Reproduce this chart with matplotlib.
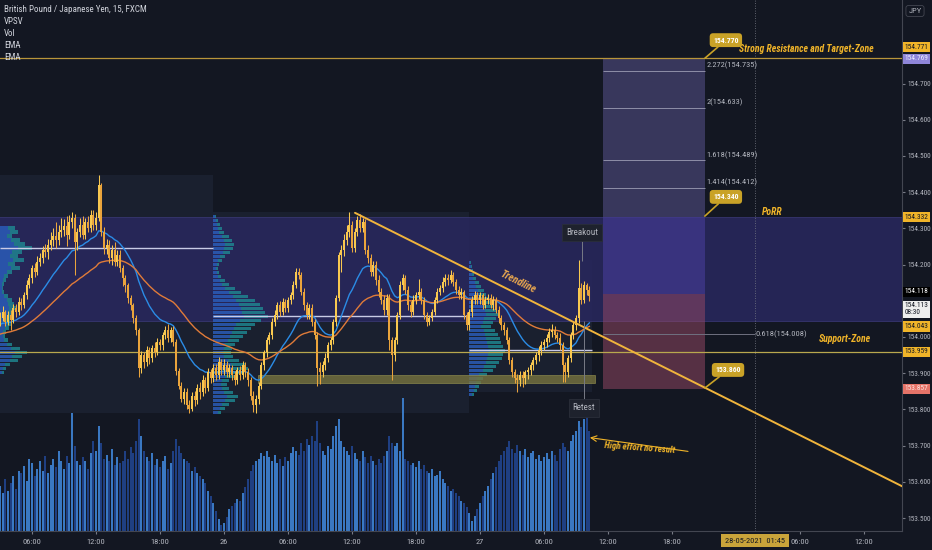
import os
import matplotlib
matplotlib.use('Agg')
import matplotlib.pyplot as plt
import numpy as np
from matplotlib import font_manager as fm
from matplotlib.patches import Rectangle
from matplotlib.transforms import blended_transform_factory

# GBPJPY 15m, x axis = hours since 26 May 00:00
first_bar = -21.0
bar_len = 0.25
first_open = 154.045

closes = [
    154.052, 154.068, 154.041, 154.060,
    154.046, 154.079, 154.068, 154.096,
    154.088, 154.115, 154.143, 154.162,
    154.190, 154.179, 154.207, 154.218,
    154.240, 154.235, 154.254, 154.268,
    154.279, 154.268, 154.290, 154.296,
    154.307, 154.282, 154.318, 154.329,
    154.262, 154.290, 154.309, 154.282,
    154.318, 154.301, 154.337, 154.309,
    154.330, 154.420, 154.290, 154.246,
    154.254, 154.218, 154.240, 154.207,
    154.226, 154.190, 154.162, 154.143,
    154.107, 154.088, 154.052, 154.019,
    153.913, 153.949, 153.930, 153.963,
    153.941, 153.969, 153.958, 153.985,
    153.977, 154.005, 154.018, 153.996,
    154.018, 153.985, 153.907, 153.866,
    153.830, 153.847, 153.811, 153.802,
    153.838, 153.825, 153.858, 153.847,
    153.880, 153.858, 153.902, 153.886,
    153.913, 153.894, 153.930, 153.908,
    153.922, 153.902, 153.913, 153.894,
    153.880, 153.908, 153.894, 153.922,
    153.902, 153.880, 153.838, 153.811,
    153.830, 153.866, 153.922, 153.958,
    153.991, 154.005, 154.041, 154.060,
    154.088, 154.068, 154.096, 154.079,
    154.102, 154.115, 154.143, 154.179,
    154.171, 154.124, 154.088, 154.060,
    154.079, 154.041, 154.005, 153.913,
    153.902, 153.922, 153.941, 153.977,
    153.991, 154.041, 154.107, 154.226,
    154.240, 154.268, 154.290, 154.309,
    154.246, 154.290, 154.323, 154.301,
    154.318, 154.240, 154.218, 154.179,
    154.199, 154.157, 154.124, 154.102,
    154.074, 154.107, 153.991, 153.949,
    153.991, 154.060, 154.143, 154.162,
    154.129, 154.088, 154.068, 154.102,
    154.115, 154.124, 154.102, 154.060,
    154.041, 154.052, 154.068, 154.102,
    154.124, 154.135, 154.151, 154.162,
    154.157, 154.171, 154.151, 154.129,
    154.115, 154.124, 154.060, 154.032,
    154.068, 154.102, 154.115, 154.102,
    154.115, 154.088, 154.102, 154.107,
    154.088, 154.102, 154.074, 154.052,
    154.032, 154.018, 153.991, 153.936,
    153.902, 153.886, 153.880, 153.894,
    153.886, 153.902, 153.908, 153.922,
    153.936, 153.949, 153.963, 153.977,
    153.985, 153.996, 154.013, 154.018,
    154.005, 153.996, 153.977, 153.922,
    153.902, 153.941, 154.005, 154.032,
    154.052, 154.135, 154.102, 154.143,
    154.129, 154.113,
]

highs = [
    154.070, 154.085, 154.075, 154.072,
    154.075, 154.092, 154.090, 154.110,
    154.108, 154.125, 154.158, 154.175,
    154.200, 154.205, 154.225, 154.232,
    154.252, 154.258, 154.270, 154.290,
    154.300, 154.318, 154.310, 154.330,
    154.325, 154.335, 154.338, 154.345,
    154.340, 154.300, 154.330, 154.335,
    154.330, 154.335, 154.350, 154.352,
    154.345, 154.448, 154.425, 154.305,
    154.270, 154.268, 154.255, 154.262,
    154.240, 154.240, 154.200, 154.170,
    154.150, 154.115, 154.095, 154.060,
    154.025, 153.960, 153.958, 153.975,
    153.972, 153.978, 153.985, 153.998,
    153.995, 154.015, 154.030, 154.035,
    154.028, 154.030, 153.995, 153.915,
    153.875, 153.858, 153.860, 153.825,
    153.848, 153.850, 153.870, 153.875,
    153.895, 153.890, 153.915, 153.912,
    153.925, 153.925, 153.945, 153.940,
    153.938, 153.935, 153.925, 153.922,
    153.905, 153.918, 153.920, 153.935,
    153.930, 153.915, 153.890, 153.850,
    153.840, 153.875, 153.930, 153.965,
    154.000, 154.015, 154.052, 154.075,
    154.098, 154.100, 154.108, 154.105,
    154.110, 154.125, 154.155, 154.190,
    154.190, 154.180, 154.135, 154.098,
    154.090, 154.090, 154.050, 154.015,
    153.930, 153.935, 153.955, 153.985,
    154.000, 154.050, 154.115, 154.235,
    154.255, 154.285, 154.310, 154.345,
    154.320, 154.300, 154.335, 154.340,
    154.330, 154.325, 154.255, 154.230,
    154.210, 154.210, 154.170, 154.135,
    154.115, 154.118, 154.120, 154.000,
    154.000, 154.070, 154.155, 154.175,
    154.172, 154.140, 154.100, 154.115,
    154.125, 154.160, 154.135, 154.110,
    154.070, 154.062, 154.078, 154.110,
    154.135, 154.145, 154.165, 154.175,
    154.175, 154.185, 154.180, 154.160,
    154.140, 154.135, 154.130, 154.070,
    154.078, 154.112, 154.128, 154.125,
    154.125, 154.122, 154.112, 154.120,
    154.118, 154.112, 154.110, 154.085,
    154.060, 154.042, 154.028, 154.000,
    153.945, 153.912, 153.898, 153.905,
    153.905, 153.910, 153.918, 153.930,
    153.945, 153.958, 153.975, 153.988,
    153.995, 154.008, 154.025, 154.035,
    154.030, 154.015, 154.010, 153.985,
    153.930, 153.950, 154.015, 154.045,
    154.062, 154.212, 154.150, 154.155,
    154.150, 154.140,
]

lows = [
    154.030, 154.045, 154.030, 154.032,
    154.020, 154.040, 154.055, 154.060,
    154.075, 154.080, 154.105, 154.135,
    154.150, 154.165, 154.170, 154.195,
    154.205, 154.220, 154.215, 154.240,
    154.250, 154.245, 154.255, 154.275,
    154.280, 154.250, 154.270, 154.300,
    154.170, 154.240, 154.275, 154.270,
    154.270, 154.290, 154.290, 154.295,
    154.295, 154.320, 154.280, 154.230,
    154.230, 154.205, 154.200, 154.195,
    154.195, 154.180, 154.140, 154.125,
    154.095, 154.075, 154.040, 154.005,
    153.890, 153.900, 153.915, 153.920,
    153.925, 153.930, 153.945, 153.950,
    153.965, 153.965, 153.995, 153.985,
    153.985, 153.975, 153.895, 153.855,
    153.820, 153.815, 153.800, 153.790,
    153.795, 153.810, 153.815, 153.830,
    153.838, 153.845, 153.850, 153.872,
    153.875, 153.880, 153.885, 153.895,
    153.895, 153.890, 153.890, 153.880,
    153.868, 153.870, 153.880, 153.885,
    153.890, 153.865, 153.825, 153.792,
    153.790, 153.815, 153.855, 153.910,
    153.945, 153.980, 153.995, 154.030,
    154.050, 154.058, 154.060, 154.070,
    154.070, 154.090, 154.105, 154.135,
    154.160, 154.115, 154.075, 154.050,
    154.050, 154.030, 153.995, 153.866,
    153.870, 153.890, 153.910, 153.930,
    153.965, 153.980, 154.030, 154.100,
    154.180, 154.225, 154.255, 154.275,
    154.235, 154.235, 154.280, 154.290,
    154.290, 154.230, 154.205, 154.168,
    154.168, 154.145, 154.110, 154.090,
    154.060, 154.062, 153.965, 153.880,
    153.935, 153.980, 154.050, 154.130,
    154.120, 154.075, 154.055, 154.060,
    154.090, 154.105, 154.090, 154.050,
    154.030, 154.032, 154.045, 154.060,
    154.095, 154.115, 154.125, 154.140,
    154.145, 154.148, 154.140, 154.118,
    154.105, 154.105, 154.050, 154.020,
    154.020, 154.055, 154.090, 154.090,
    154.090, 154.078, 154.080, 154.092,
    154.080, 154.075, 154.065, 154.040,
    154.020, 154.005, 153.980, 153.925,
    153.890, 153.872, 153.848, 153.865,
    153.862, 153.870, 153.885, 153.895,
    153.910, 153.925, 153.935, 153.950,
    153.965, 153.972, 153.985, 154.000,
    153.995, 153.985, 153.965, 153.875,
    153.875, 153.890, 153.930, 153.995,
    154.020, 154.040, 154.090, 154.095,
    154.115, 154.100,
]

volumes = [
    45, 38, 52, 40, 48, 55, 42, 60, 58, 65, 50, 72, 68, 55, 62, 70,
    60, 75, 58, 66, 72, 64, 80, 70, 62, 75, 68, 118, 85, 70, 66, 74,
    70, 62, 78, 90, 80, 105, 88, 72, 76, 70, 82, 66, 74, 68, 70, 80,
    72, 84, 78, 90, 112, 95, 80, 74, 70, 78, 66, 72, 64, 70, 75, 62,
    68, 80, 92, 85, 78, 72, 70, 68, 60, 64, 58, 55, 52, 48, 40, 35,
    28, 20, 12, 6, 8, 14, 22, 25, 28, 32, 30, 38, 44, 52, 60, 66,
    70, 72, 78, 75, 80, 74, 70, 76, 68, 72, 65, 74, 70, 78, 84, 80,
    76, 88, 80, 92, 86, 95, 90, 110, 88, 80, 76, 85, 82, 95, 105, 112,
    90, 84, 80, 76, 85, 78, 72, 70, 80, 74, 68, 75, 70, 66, 72, 68,
    75, 80, 95, 88, 85, 88, 80, 133, 72, 70, 66, 68, 64, 70, 62, 66,
    60, 58, 62, 55, 56, 60, 52, 48, 45, 40, 42, 38, 35, 30, 28, 24,
    18, 10, 15, 22, 28, 35, 40, 45, 52, 58, 64, 70, 76, 80, 84, 90,
    82, 78, 86, 80, 76, 82, 74, 78, 80, 72, 76, 70, 74, 78, 72, 80,
    76, 70, 82, 88, 84, 80, 90, 96, 100, 110, 104, 112, 128, 100,
]

# session volume profiles: (start hour, top row price, row widths)
row_step = 0.01105
sessions = [
    (-21.0, 154.301, [15, 18, 12, 20, 25, 32, 22, 18, 24, 15, 20, 12, 8, 6, 4, 3, 4, 8, 12, 14,
                      16, 14, 12, 10, 12, 9, 6, 5, 8, 12, 20, 27, 22, 18, 10, 6, 4]),
    (-1.0, 154.334, [3, 5, 7, 9, 11, 16, 19, 21, 20, 17, 12, 9, 6, 5, 6, 8, 12, 16, 22, 28,
                     35, 42, 47, 50, 52, 55, 48, 42, 38, 34, 30, 26, 22, 19, 18, 20, 26, 32, 35, 30,
                     22, 16, 14, 16, 20, 25, 22, 16, 12, 8]),
    (23.0, 154.207, [2, 3, 4, 5, 7, 10, 12, 15, 17, 20, 23, 25, 28, 30, 27, 24, 22, 26, 29, 31,
                     32, 34, 36, 34, 33, 30, 27, 24, 18, 14, 12, 10, 8, 5]),
]
session_ends = [-1.0, 23.0, 34.5]

ema_fast_start = 154.033
ema_slow_start = 154.006

resistance = 154.770
support = 153.959
porr_top, porr_bottom = 154.332, 154.043
zone_top, zone_bottom = 153.894, 153.872
trend_start = (12.28, 154.343)
trend_end = (70.0, 153.493)
entry, stop, target = 154.118, 153.857, 154.332
pos_left, pos_right = 35.5, 45.1
fib_levels = [(2.272, 154.735), (2.0, 154.633), (1.618, 154.489), (1.414, 154.412)]
fib_618 = 154.008
marker_time = 49.77

bg = '#131722'
gold = '#f0b429'
grey_txt = '#b2b5be'


# TradingView text is narrow: look for a condensed sans face, else Liberation Sans
def pick_font(bold=False, italic=False):
    families = ['Liberation Sans Narrow', 'Roboto Condensed', 'Noto Sans', 'Noto Sans Condensed',
                'Open Sans', 'Open Sans Condensed', 'DejaVu Sans', 'Roboto']
    found = {}
    for f in fm.fontManager.ttflist:
        base = os.path.basename(f.fname).lower()
        if f.name not in families or f.stretch != 'condensed':
            continue
        if any(k in base for k in ('extra', 'semi', 'ultra')):
            continue
        w = f.weight if isinstance(f.weight, int) else (700 if 'bold' in str(f.weight) else 400)
        if (w >= 600) != bold or (f.style != 'normal') != italic:
            continue
        if bold and w > 750:
            continue
        if not bold and w < 350:
            continue
        found.setdefault(f.name, f.fname)
    for fam in families:
        if fam in found:
            return dict(fname=found[fam])
    return dict(family='Liberation Sans', weight='bold' if bold else 'normal',
                style='italic' if italic else 'normal')


reg_font = pick_font()
bi_font = pick_font(bold=True, italic=True)
b_font = pick_font(bold=True)


def fp(size, spec=None):
    return fm.FontProperties(size=size, **(spec or reg_font))


def ema(values, span, start):
    k = 2.0 / (span + 1)
    level = start
    out = []
    for v in values:
        level = level + k * (v - level)
        out.append(level)
    return np.array(out)


fig = plt.figure(figsize=(9.32, 5.5), dpi=100)
fig.patch.set_facecolor(bg)
ax = fig.add_axes([0, 19 / 550, 902 / 932, 531 / 550])
ax.set_facecolor(bg)

t = first_bar + bar_len * np.arange(len(closes))
c = np.array(closes)
o = np.concatenate([[first_open], c[:-1]])
h = np.array(highs)
l = np.array(lows)

# session range boxes + profiles + POC lines
for (start, top, widths), end in zip(sessions, session_ends):
    m = (t >= start) & (t < end)
    ax.add_patch(Rectangle((start, l[m].min()), end - start, h[m].max() - l[m].min(),
                           fc='#1a202f', ec='none', zorder=0.5))
for (start, top, widths), end in zip(sessions, session_ends):
    w = np.array(widths) / 10.67
    rows = top - row_step * np.arange(len(widths))
    ax.barh(rows, w * 0.55, height=0.0085, left=start, color='#2b5fbf', alpha=0.8, zorder=2)
    ax.barh(rows, w * 0.45, height=0.0085, left=start + w * 0.55, color='#1f8a94', alpha=0.8, zorder=2)
    poc = rows[int(np.argmax(widths))]
    ax.hlines(poc, start, end, color='#c9cbe6', lw=1.0, zorder=2.5)

# PoRR band
ax.add_patch(Rectangle((-30, porr_bottom), 120, porr_top - porr_bottom,
                       fc='#29285f', ec='#3b3a78', lw=0.6, alpha=0.85, zorder=1))

# volume
vol_tr = blended_transform_factory(ax.transData, ax.transAxes)
vcol = np.where(c >= o, '#3a78c2', '#1f3f82')
ax.bar(t, np.array(volumes) / max(volumes) * 0.25, width=0.17, bottom=0,
       color=vcol, transform=vol_tr, zorder=1.5)

# fib extension and long position
ax.add_patch(Rectangle((pos_left, target), pos_right - pos_left, resistance - target,
                       fc='#38375c', ec='none', zorder=2))
for lvl, price in fib_levels:
    ax.hlines(price, pos_left, pos_right, color='#8e8ea8', lw=0.7, zorder=2.2)
    ax.text(pos_right + 0.1, price + 0.004, f'{lvl:g}({price:.3f})', color=grey_txt,
            fontproperties=fp(6), ha='left', va='bottom', zorder=7)
ax.add_patch(Rectangle((pos_left, entry), pos_right - pos_left, target - entry,
                       fc='#4b3fa0', alpha=0.55, ec='none', zorder=2))
ax.add_patch(Rectangle((pos_left, stop), pos_right - pos_left, entry - stop,
                       fc='#9a4a66', alpha=0.5, ec='none', zorder=2))
ax.hlines(fib_618, pos_left, marker_time, color='#6f7180', lw=0.7, zorder=2.2)
ax.text(marker_time + 0.05, fib_618, f'0.618({fib_618:.3f})', color=grey_txt,
        fontproperties=fp(6), ha='left', va='center', zorder=7)
ax.axvline(marker_time, color='#787b86', lw=0.6, ls=(0, (1, 2)), zorder=2.3)

# horizontal levels and support zone
ax.axhline(resistance, color='#b8953a', lw=0.9, zorder=3)
ax.axhline(support, color='#b9a84e', lw=0.9, zorder=3)
ax.add_patch(Rectangle((3.2, zone_bottom), 31.6, zone_top - zone_bottom,
                       fc='#77733f', ec='#9a9650', lw=0.5, alpha=0.8, zorder=3))

# EMAs
ax.plot(t, ema(closes, 20, ema_fast_start), color='#2b8ce6', lw=1.0, zorder=4)
ax.plot(t, ema(closes, 50, ema_slow_start), color='#e07b39', lw=1.0, zorder=4)

# candles
ccol = np.where(c >= o, '#f8c850', '#eaa43c')
ax.vlines(t, l, h, colors=ccol, lw=0.75, zorder=4.5)
body_lo = np.minimum(o, c)
body_h = np.maximum(np.abs(c - o), 0.0018)
ax.bar(t, body_h, bottom=body_lo, width=0.2, color=ccol, zorder=5)

# trendline
ax.plot([trend_start[0], trend_end[0]], [trend_start[1], trend_end[1]],
        color='#f0b43c', lw=1.4, zorder=6, solid_capstyle='round')
ax.text(27.55, 154.152, 'Trendline', color='#e8a64f', fontproperties=fp(7.5, bi_font),
        rotation=-26.5, ha='center', va='center', zorder=7)

# text annotations
ax.text(54.55, 154.795, 'Strong Resistance and Target-Zone', color=gold, fontproperties=fp(7, bi_font),
        ha='center', va='center', zorder=7)
ax.text(51.36, 154.345, 'PoRR', color=gold, fontproperties=fp(7, bi_font),
        ha='center', va='center', zorder=7)
ax.text(58.2, 153.994, 'Support-Zone', color=gold, fontproperties=fp(7, bi_font),
        ha='center', va='center', zorder=7)
ax.text(39.0, 153.693, 'High effort no result', color=gold, fontproperties=fp(6.5, bi_font),
        rotation=-4, ha='center', va='center', zorder=7)
ax.annotate('', xy=(34.3, 153.722), xytext=(43.5, 153.684),
            arrowprops=dict(arrowstyle='->', color=gold, lw=0.8, shrinkA=0, shrinkB=0), zorder=7)

for txt, tip, box in [('154.770', (45.08, 154.770), (47.05, 154.820)),
                      ('154.340', (45.08, 154.334), (47.05, 154.387)),
                      ('153.860', (45.08, 153.859), (47.25, 153.909))]:
    ax.annotate(txt, xy=tip, xytext=box, color='white', fontproperties=fp(5.5, b_font),
                ha='center', va='center', zorder=8,
                bbox=dict(boxstyle='round,pad=0.45', fc='#c9a227', ec='none'),
                arrowprops=dict(arrowstyle='-', color='#c9a227', lw=1.2, shrinkA=0, shrinkB=0))

ax.vlines(33.55, 154.210, 154.268, color='#787b86', lw=0.7, zorder=6)
ax.text(33.55, 154.288, 'Breakout', color=grey_txt, fontproperties=fp(6.5), ha='center', va='center',
        zorder=8, bbox=dict(boxstyle='square,pad=0.45', fc='#1e222d', ec='#2a2e39', lw=0.6))
ax.vlines(33.75, 153.830, 154.045, color='#787b86', lw=0.7, zorder=6)
ax.text(33.75, 153.804, 'Retest', color=grey_txt, fontproperties=fp(6.5), ha='center', va='center',
        zorder=8, bbox=dict(boxstyle='square,pad=0.45', fc='#1e222d', ec='#2a2e39', lw=0.6))

# legend lines top-left
for i, s in enumerate(['British Pound / Japanese Yen, 15, FXCM', 'VPSV', 'Vol', 'EMA', 'EMA']):
    fig.text(4 / 932, 1 - (9 + 12.2 * i) / 550, s, color='#d1d4dc', fontproperties=fp(6.5),
             ha='left', va='center')

# axes
ax.set_xlim(-21.0, 63.56)
ax.set_ylim(153.4641, 154.9309)
ax.yaxis.tick_right()
yt = [153.5, 153.6, 153.7, 153.8, 153.9, 154.0, 154.1, 154.2, 154.3, 154.4, 154.5, 154.6, 154.7]
ax.set_yticks(yt)
# 154.100 sits under the last-price box, as in TradingView
ax.set_yticklabels(['' if v == 154.1 else f'{v:.3f}' for v in yt], fontproperties=fp(5.3))
xt = [-18, -12, -6, 0, 6, 12, 18, 24, 30, 36, 42, 54, 60]
xl = ['06:00', '12:00', '18:00', '26', '06:00', '12:00', '18:00', '27', '06:00', '12:00',
      '18:00', '06:00', '12:00']
ax.set_xticks(xt)
ax.set_xticklabels(xl, fontproperties=fp(6))
ax.tick_params(axis='both', colors='#787b86', labelcolor=grey_txt, length=2.5)
ax.tick_params(axis='y', pad=1.5)
ax.tick_params(axis='x', pad=3)
for side in ['top', 'left']:
    ax.spines[side].set_visible(False)
for side in ['right', 'bottom']:
    ax.spines[side].set_color('#434651')
    ax.spines[side].set_linewidth(0.8)

# price labels on the right scale
ytr = blended_transform_factory(ax.transAxes, ax.transData)
for txt, y, fc, tc in [('154.771', 154.801, '#f0b429', '#131722'),
                       ('154.769', 154.768, '#8f86d9', '#eeeeff'),
                       ('154.332', 154.331, '#f0b429', '#131722'),
                       ('154.118', 154.125, '#000000', '#ffffff'),
                       ('154.113\n08:30', 154.076, '#eeeeee', '#131722'),
                       ('154.043', 154.029, '#f0b429', '#131722'),
                       ('153.959', 153.959, '#f0b429', '#131722'),
                       ('153.857', 153.857, '#e57368', '#fbe3e0')]:
    ax.text(1.003, y, txt, transform=ytr, color=tc, fontproperties=fp(5.3), ha='left', va='center',
            linespacing=1.0, clip_on=False, zorder=10,
            bbox=dict(boxstyle='square,pad=0.22', fc=fc, ec='none'))

fig.text(915 / 932, 1 - 11 / 550, 'JPY', color=grey_txt, fontproperties=fp(6), ha='center', va='center',
         bbox=dict(boxstyle='round,pad=0.3', fc=bg, ec='#434651', lw=0.6))

xtr = blended_transform_factory(ax.transData, ax.transAxes)
ax.text(marker_time, -0.018, '28-05-2021  01:45', transform=xtr, color='#131722', fontproperties=fp(6),
        ha='center', va='center', clip_on=False, zorder=10,
        bbox=dict(boxstyle='square,pad=0.45', fc='#c9a43a', ec='none'))

fig.savefig('out.png', dpi=100, facecolor=bg)
